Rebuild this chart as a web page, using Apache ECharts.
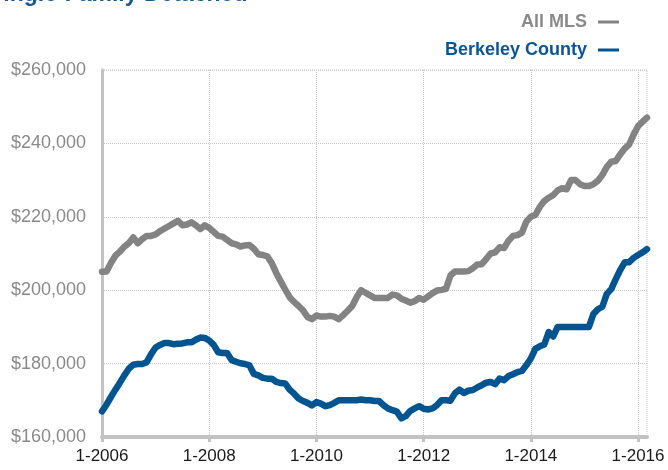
<!DOCTYPE html>
<html>
<head>
<meta charset="utf-8">
<script src="https://cdn.jsdelivr.net/npm/echarts@6/dist/echarts.min.js"></script>
<style>
  html, body { margin: 0; padding: 0; background: #fff; }
  #chart { width: 668px; height: 470px; }
</style>
</head>
<body>
<div id="chart"></div>
<script>
/* 月份：1-2006 ~ 3-2016 */
var startYear = 2006;
var monthCount = 123;
var months = [];
for (var i = 0; i < monthCount; i++) {
  months.push((i % 12 + 1) + '-' + (startYear + Math.floor(i / 12)));
}

/* All MLS 中位价 */
var allMls = [
  205000, 205100, 207400, 209400, 210500, 211900, 212800, 214400, 212800, 213900, 214800, 214800,
  215200, 216100, 216800, 217500, 218200, 218900, 217700, 217900, 218500, 217700, 216700, 217700,
  217000, 215900, 214800, 214600, 213700, 212800, 212500, 211900, 212200, 212300, 211300, 209800,
  209600, 209200, 207400, 204700, 202400, 200200, 198100, 196800, 195700, 194500, 192700, 192100,
  193100, 192800, 192800, 193000, 192800, 192100, 193200, 194400, 195700, 198100, 200000, 199300,
  198600, 197900, 197900, 197900, 197900, 198800, 198600, 197700, 197200, 196600, 197000, 197900,
  197400, 198300, 199200, 199900, 200100, 200400, 204000, 205100, 205100, 205100, 205200, 206000,
  207000, 207100, 208500, 210000, 210300, 211700, 211500, 213500, 214800, 215000, 215700, 218700,
  220000, 220500, 222700, 224300, 225200, 225900, 227200, 227800, 227500, 230000, 230000, 228900,
  228400, 228400, 228900, 229800, 231400, 233600, 235000, 235200, 237000, 238600, 239700, 242400,
  244700, 245900, 247000
];

/* Berkeley County 中位价 */
var berkeley = [
  167000, 168800, 170900, 172900, 174800, 176800, 178600, 179700, 179900, 179900, 180400, 182600,
  184400, 185100, 185600, 185600, 185300, 185400, 185500, 185800, 185800, 186500, 187100, 187000,
  186300, 185100, 183100, 182900, 182900, 181000, 180500, 180100, 179900, 179500, 177200, 176800,
  176100, 175900, 175900, 175000, 174700, 174600, 172900, 171800, 170500, 169800, 169300, 168600,
  169500, 169100, 168400, 168700, 169300, 170000, 170000, 170000, 170000, 170000, 170200, 170000,
  170000, 169800, 169800, 168700, 167800, 167300, 166900, 165100, 165700, 167100, 167800, 168400,
  167700, 167500, 167800, 168700, 170000, 170000, 169900, 171900, 172900, 172000, 172600, 172800,
  173500, 174100, 174800, 175000, 174400, 175900, 175500, 176600, 177100, 177700, 178000, 179600,
  181400, 184000, 184700, 185200, 188600, 187400, 190000, 190000, 190000, 190000, 190000, 190000,
  190000, 190000, 193500, 194800, 195500, 199000, 200300, 203000, 205500, 207600, 207600, 208800,
  209600, 210300, 211200
];

var seriesNames = ['All MLS', 'Berkeley County'];
var seriesColors = ['#838383', '#00548f'];

/* y 轴刻度 */
var yMin = 160000, yMax = 260000, yStep = 20000;
var labelEvery = 24;

var chart = echarts.init(document.getElementById('chart'), null, { renderer: 'canvas' });

var option = {
  animation: false,
  grid: {
    left: 102, right: 21, top: 70, bottom: 33,
    show: true,
    borderColor: '#c8c8c8',
    borderWidth: 1,
    borderType: 'dotted'
  },
  graphic: [{
    type: 'text',
    left: -12,
    top: -17,
    style: {
      text: 'Single-Family Detached',
      font: 'bold 23px "Liberation Sans", Arial, sans-serif',
      fill: '#1a5a92'
    }
  }],
  legend: {
    orient: 'vertical',
    right: 44,
    top: 8,
    align: 'right',
    itemGap: 10,
    itemWidth: 21,
    itemHeight: 3,
    icon: 'rect',
    data: [
      { name: seriesNames[0], textStyle: { color: '#8a8a8a' } },
      { name: seriesNames[1], textStyle: { color: '#0c5595' } }
    ],
    textStyle: {
      fontFamily: '"Liberation Sans", Arial, sans-serif',
      fontWeight: 'bold',
      fontSize: 18,
      padding: [0, 6, 0, 0]
    }
  },
  xAxis: {
    type: 'category',
    data: months,
    boundaryGap: false,
    axisLine: { lineStyle: { color: '#c2c2c2', width: 4 } },
    axisTick: {
      show: true,
      interval: function (idx) { return idx % labelEvery === 0; },
      length: 5,
      lineStyle: { color: '#c2c2c2', width: 3 }
    },
    axisLabel: {
      interval: function (idx) { return idx % labelEvery === 0; },
      color: '#1a1a1a',
      fontSize: 17,
      fontFamily: '"Liberation Sans", Arial, sans-serif',
      margin: 11
    },
    splitLine: {
      show: true,
      interval: function (idx) { return idx % labelEvery === 0; },
      lineStyle: { color: '#c8c8c8', type: 'dotted', width: 1 }
    }
  },
  yAxis: {
    type: 'value',
    min: yMin,
    max: yMax,
    interval: yStep,
    axisLine: { show: true, lineStyle: { color: '#c2c2c2', width: 3 } },
    axisTick: { show: false },
    axisLabel: {
      color: '#8a8a8a',
      fontSize: 18,
      fontFamily: '"Liberation Sans", Arial, sans-serif',
      margin: 16,
      formatter: function (v) { return '$' + v.toLocaleString('en-US'); }
    },
    splitLine: { lineStyle: { color: '#c8c8c8', type: 'dotted', width: 1 } }
  },
  series: [
    {
      name: seriesNames[0],
      type: 'line',
      data: allMls,
      showSymbol: false,
      color: seriesColors[0],
      lineStyle: { width: 6.5, color: seriesColors[0], join: 'round', cap: 'round' }
    },
    {
      name: seriesNames[1],
      type: 'line',
      data: berkeley,
      showSymbol: false,
      color: seriesColors[1],
      lineStyle: { width: 6.5, color: seriesColors[1], join: 'round', cap: 'round' }
    }
  ]
};

chart.setOption(option);
</script>
</body>
</html>
